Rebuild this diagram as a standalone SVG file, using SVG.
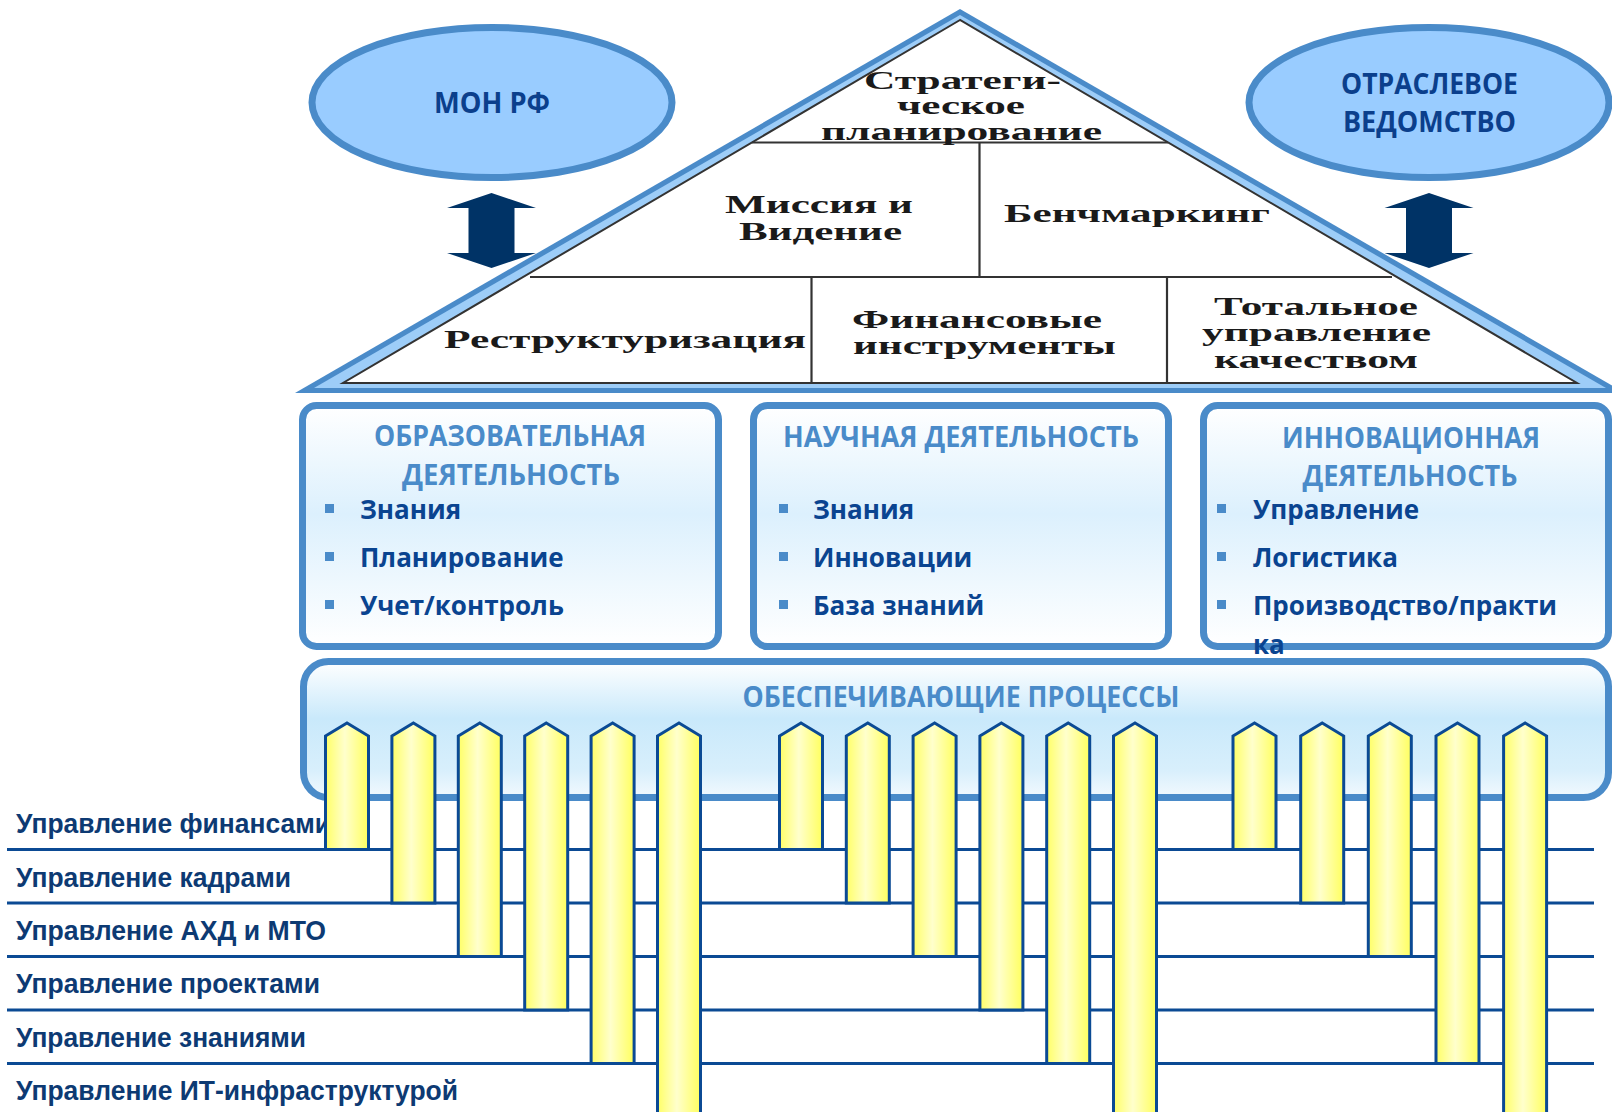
<svg xmlns="http://www.w3.org/2000/svg" width="1612" height="1112" viewBox="0 0 1612 1112">
<style>
.roofline{stroke:#333;stroke-width:2.2;fill:none}
.rt{font-family:"Liberation Serif","Times New Roman",serif;font-weight:bold;font-size:25px;fill:#1a1a1a}
.ell{fill:#99ccff;stroke:#4a8bc9;stroke-width:7}
.et{font-family:"Open Sans","Noto Sans",sans-serif;font-weight:bold;font-size:28px;fill:#0b3f8c;text-anchor:middle}
.box{fill:url(#gBox);stroke:#4a8bc9;stroke-width:7}
.tt{font-family:"Open Sans","Noto Sans",sans-serif;font-weight:bold;font-size:28px;fill:#4a8bc9;text-anchor:middle}
.it{font-family:"Open Sans","Noto Sans",sans-serif;font-weight:bold;font-size:26px;fill:#0a4490}
.bul{fill:#4a8bc9}
.row{stroke:#0b4a94;stroke-width:3}
.lab{font-family:"Liberation Sans",Arial,sans-serif;font-weight:bold;font-size:28px;fill:#0d3a73}
.pil{fill:url(#gPil);stroke:#0b4a94;stroke-width:3;stroke-linejoin:miter}
.arr{fill:#003366}
</style>
<defs>
<linearGradient id="gBox" x1="0" y1="0" x2="0" y2="1">
<stop offset="0" stop-color="#ffffff"/>
<stop offset="0.45" stop-color="#dcf0fd"/>
<stop offset="1" stop-color="#ffffff"/>
</linearGradient>
<linearGradient id="gBig" x1="0" y1="0" x2="0" y2="1">
<stop offset="0" stop-color="#ffffff"/>
<stop offset="0.42" stop-color="#c9e9fb"/>
<stop offset="0.8" stop-color="#d8effc"/>
<stop offset="1" stop-color="#f2f9fe"/>
</linearGradient>
<linearGradient id="gPil" x1="0" y1="0" x2="1" y2="0">
<stop offset="0" stop-color="#ffff66"/>
<stop offset="0.45" stop-color="#ffffcc"/>
<stop offset="1" stop-color="#ffff5e"/>
</linearGradient>
<path id="dblarrow" d="M0,-37.5 L44.5,-22.5 L23,-22.5 L23,22.5 L44.5,22.5 L0,37.5 L-44.5,22.5 L-23,22.5 L-23,-22.5 L-44.5,-22.5 Z"/>
</defs>

<g id="connectors">
<use href="#dblarrow" class="arr" x="491.5" y="230.5"/>
<use href="#dblarrow" class="arr" x="1429" y="230.5"/>
</g>

<g id="roof">
<polygon points="960,9 295,393 1625,393" fill="#4a8bc9"/>
<polygon points="960,15 314,388 1606,388" fill="#9dcdf8"/>
<polygon points="960,20 343,383 1577,383" fill="#ffffff" stroke="#333" stroke-width="2"/>
<line class="roofline" x1="752" y1="142.5" x2="1168" y2="142.5"/>
<line class="roofline" x1="979.5" y1="142.5" x2="979.5" y2="277"/>
<line class="roofline" x1="530" y1="277" x2="1392" y2="277"/>
<line class="roofline" x1="811.5" y1="277" x2="811.5" y2="383"/>
<line class="roofline" x1="1167" y1="277" x2="1167" y2="383"/>
</g>

<g id="roof-strategic">
<text class="rt" x="864" y="89" textLength="197" lengthAdjust="spacingAndGlyphs">Стратеги-</text>
<text class="rt" x="897" y="114" textLength="128" lengthAdjust="spacingAndGlyphs">ческое</text>
<text class="rt" x="821" y="140" textLength="281" lengthAdjust="spacingAndGlyphs">планирование</text>
</g>
<g id="roof-mission">
<text class="rt" x="725" y="213" textLength="188" lengthAdjust="spacingAndGlyphs">Миссия и</text>
<text class="rt" x="739" y="240" textLength="163" lengthAdjust="spacingAndGlyphs">Видение</text>
</g>
<g id="roof-bench">
<text class="rt" x="1004" y="222" textLength="266" lengthAdjust="spacingAndGlyphs">Бенчмаркинг</text>
</g>
<g id="roof-restr">
<text class="rt" x="444" y="348" textLength="362" lengthAdjust="spacingAndGlyphs">Реструктуризация</text>
</g>
<g id="roof-fin">
<text class="rt" x="852" y="328" textLength="250" lengthAdjust="spacingAndGlyphs">Финансовые</text>
<text class="rt" x="853" y="354" textLength="263" lengthAdjust="spacingAndGlyphs">инструменты</text>
</g>
<g id="roof-tqm">
<text class="rt" x="1214" y="315" textLength="204" lengthAdjust="spacingAndGlyphs">Тотальное</text>
<text class="rt" x="1202" y="341" textLength="229" lengthAdjust="spacingAndGlyphs">управление</text>
<text class="rt" x="1214" y="368" textLength="204" lengthAdjust="spacingAndGlyphs">качеством</text>
</g>

<g id="mon-rf">
<ellipse class="ell" cx="492" cy="102.5" rx="180" ry="75"/>
<text class="et" x="492" y="113" textLength="116" lengthAdjust="spacingAndGlyphs">МОН РФ</text>
</g>
<g id="otr-ved">
<ellipse class="ell" cx="1429" cy="102.5" rx="180" ry="75"/>
<text class="et" x="1429.5" y="94" textLength="177" lengthAdjust="spacingAndGlyphs">ОТРАСЛЕВОЕ</text>
<text class="et" x="1429.5" y="132" textLength="173" lengthAdjust="spacingAndGlyphs">ВЕДОМСТВО</text>
</g>

<g id="box-edu">
<rect class="box" x="302.5" y="405.5" width="416" height="241" rx="14"/>
<text class="tt" x="510" y="446" textLength="272" lengthAdjust="spacingAndGlyphs">ОБРАЗОВАТЕЛЬНАЯ</text>
<text class="tt" x="511" y="485" textLength="218" lengthAdjust="spacingAndGlyphs">ДЕЯТЕЛЬНОСТЬ</text>
<rect class="bul" x="325" y="504" width="9" height="9"/>
<rect class="bul" x="325" y="552" width="9" height="9"/>
<rect class="bul" x="325" y="600" width="9" height="9"/>
<text class="it" x="360" y="519">Знания</text>
<text class="it" x="360" y="567">Планирование</text>
<text class="it" x="360" y="615">Учет/контроль</text>
</g>
<g id="box-sci">
<rect class="box" x="753.5" y="405.5" width="415" height="241" rx="14"/>
<text class="tt" x="961" y="447" textLength="356" lengthAdjust="spacingAndGlyphs">НАУЧНАЯ ДЕЯТЕЛЬНОСТЬ</text>
<rect class="bul" x="779" y="504" width="9" height="9"/>
<rect class="bul" x="779" y="552" width="9" height="9"/>
<rect class="bul" x="779" y="600" width="9" height="9"/>
<text class="it" x="813" y="519">Знания</text>
<text class="it" x="813" y="567">Инновации</text>
<text class="it" x="813" y="615">База знаний</text>
</g>
<g id="box-inn">
<rect class="box" x="1203.5" y="405.5" width="405" height="241" rx="14"/>
<text class="tt" x="1411" y="448" textLength="258" lengthAdjust="spacingAndGlyphs">ИННОВАЦИОННАЯ</text>
<text class="tt" x="1410" y="486" textLength="215" lengthAdjust="spacingAndGlyphs">ДЕЯТЕЛЬНОСТЬ</text>
<rect class="bul" x="1217" y="504" width="9" height="9"/>
<rect class="bul" x="1217" y="552" width="9" height="9"/>
<rect class="bul" x="1217" y="600" width="9" height="9"/>
<text class="it" x="1253" y="519">Управление</text>
<text class="it" x="1253" y="567">Логистика</text>
<text class="it" x="1253" y="615">Производство/практи</text>
<text class="it" x="1253" y="654">ка</text>
</g>

<g id="rows">
<line class="row" x1="7" y1="849.5" x2="1594" y2="849.5"/>
<line class="row" x1="7" y1="903" x2="1594" y2="903"/>
<line class="row" x1="7" y1="956.5" x2="1594" y2="956.5"/>
<line class="row" x1="7" y1="1010" x2="1594" y2="1010"/>
<line class="row" x1="7" y1="1063.5" x2="1594" y2="1063.5"/>
</g>
<g id="row-labels">
<text class="lab" x="16" y="833" textLength="315" lengthAdjust="spacingAndGlyphs">Управление финансами</text>
<text class="lab" x="16" y="887" textLength="275" lengthAdjust="spacingAndGlyphs">Управление кадрами</text>
<text class="lab" x="16" y="940" textLength="310" lengthAdjust="spacingAndGlyphs">Управление АХД и МТО</text>
<text class="lab" x="16" y="993" textLength="304" lengthAdjust="spacingAndGlyphs">Управление проектами</text>
<text class="lab" x="16" y="1047" textLength="290" lengthAdjust="spacingAndGlyphs">Управление знаниями</text>
<text class="lab" x="16" y="1100" textLength="442" lengthAdjust="spacingAndGlyphs">Управление ИТ-инфраструктурой</text>
</g>

<g id="support-processes">
<rect x="303.5" y="661.5" width="1305" height="136" rx="25" fill="url(#gBig)" stroke="#4a8bc9" stroke-width="7"/>
<text class="tt" x="961" y="707" textLength="437" lengthAdjust="spacingAndGlyphs">ОБЕСПЕЧИВАЮЩИЕ ПРОЦЕССЫ</text>
</g>

<g id="pillars">
<path class="pil" d="M325.5,736 L347,723 L368.5,736 L368.5,849.5 L325.5,849.5 Z"/>
<path class="pil" d="M391.9,736 L413.4,723 L434.9,736 L434.9,903 L391.9,903 Z"/>
<path class="pil" d="M458.3,736 L479.8,723 L501.3,736 L501.3,956.5 L458.3,956.5 Z"/>
<path class="pil" d="M524.7,736 L546.2,723 L567.7,736 L567.7,1010 L524.7,1010 Z"/>
<path class="pil" d="M591.1,736 L612.6,723 L634.1,736 L634.1,1063.5 L591.1,1063.5 Z"/>
<path class="pil" d="M657.5,736 L679,723 L700.5,736 L700.5,1120 L657.5,1120 Z"/>

<path class="pil" d="M779.5,736 L801,723 L822.5,736 L822.5,849.5 L779.5,849.5 Z"/>
<path class="pil" d="M846.3,736 L867.8,723 L889.3,736 L889.3,903 L846.3,903 Z"/>
<path class="pil" d="M913.1,736 L934.6,723 L956.1,736 L956.1,956.5 L913.1,956.5 Z"/>
<path class="pil" d="M979.9,736 L1001.4,723 L1022.9,736 L1022.9,1010 L979.9,1010 Z"/>
<path class="pil" d="M1046.7,736 L1068.2,723 L1089.7,736 L1089.7,1063.5 L1046.7,1063.5 Z"/>
<path class="pil" d="M1113.5,736 L1135,723 L1156.5,736 L1156.5,1120 L1113.5,1120 Z"/>

<path class="pil" d="M1233,736 L1254.5,723 L1276,736 L1276,849.5 L1233,849.5 Z"/>
<path class="pil" d="M1300.7,736 L1322.2,723 L1343.7,736 L1343.7,903 L1300.7,903 Z"/>
<path class="pil" d="M1368.3,736 L1389.8,723 L1411.3,736 L1411.3,956.5 L1368.3,956.5 Z"/>
<path class="pil" d="M1436,736 L1457.5,723 L1479,736 L1479,1063.5 L1436,1063.5 Z"/>
<path class="pil" d="M1503.6,736 L1525.1,723 L1546.6,736 L1546.6,1120 L1503.6,1120 Z"/>
</g>
</svg>
